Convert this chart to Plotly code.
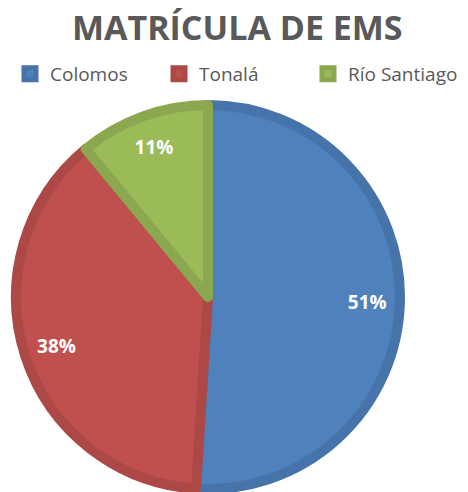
import plotly.graph_objects as go

labels = ["Colomos", "Tonalá", "Río Santiago"]
values = [51, 38, 11]
fill_colors = ["#4F81BD", "#C0504D", "#9BBB59"]
line_colors = ["#4673A9", "#AC4845", "#8BA74F"]

W, H = 468, 492
cx, cy, r = 208, 297, 192
dom = dict(x=[(cx - r) / W, (cx + r) / W], y=[1 - (cy + r) / H, 1 - (cy - r) / H])

fig = go.Figure()
fig.add_trace(go.Pie(
    labels=labels,
    values=values,
    sort=False,
    direction="clockwise",
    rotation=0,
    marker=dict(colors=fill_colors, line=dict(color=line_colors, width=10)),
    textinfo="none",
    hoverinfo="label+percent",
    domain=dom,
))
# label layer: transparent ring so that the percentages sit near the outer edge
fig.add_trace(go.Pie(
    labels=labels,
    values=values,
    sort=False,
    direction="clockwise",
    rotation=0,
    hole=0.66,
    showlegend=False,
    marker=dict(colors=["rgba(0,0,0,0)"] * 3, line=dict(width=0)),
    texttemplate="%{percent:.0%}",
    textposition="inside",
    insidetextorientation="horizontal",
    textfont=dict(family="Open Sans", size=19, color="white", weight="bold"),
    hoverinfo="label+percent",
    domain=dom,
))

fig.update_layout(
    width=W, height=H,
    margin=dict(l=0, r=0, t=0, b=0),
    paper_bgcolor="white",
    title=dict(text="<b>MATRÍCULA DE EMS</b>", x=0.507, xanchor="center", y=1 - 28 / H, yanchor="middle",
               font=dict(family="Open Sans", size=34, color="#595959")),
    showlegend=True,
    legend=dict(orientation="h", x=10 / W, xanchor="left", y=1 - 55 / H, yanchor="top",
                font=dict(family="Open Sans", size=19, color="#595959"),
                itemwidth=30, entrywidth=104, traceorder="normal"),
)

fig.write_html("out.html", config={"displayModeBar": False},
               post_script="document.body.style.margin='0';")
